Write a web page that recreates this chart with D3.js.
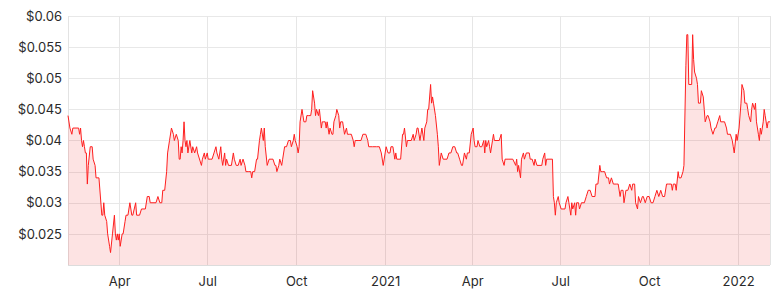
<!DOCTYPE html>
<html><head><meta charset="utf-8">
<script src="https://cdn.jsdelivr.net/npm/d3@7"></script>
<style>
html,body{margin:0;padding:0;background:#fff;}
svg{display:block;font-family:Inter,"Open Sans",sans-serif;}
</style></head>
<body><svg id="chart" width="780" height="298"></svg>
<script>
const dates = [
"2020-02-08","2020-02-10","2020-02-12","2020-02-13","2020-02-19","2020-02-20","2020-02-21","2020-02-22","2020-02-23","2020-02-24",
"2020-02-25","2020-02-26","2020-02-27","2020-02-28","2020-02-29","2020-03-02","2020-03-04","2020-03-05","2020-03-07","2020-03-08",
"2020-03-11","2020-03-14","2020-03-15","2020-03-16","2020-03-17","2020-03-19","2020-03-20","2020-03-22","2020-03-23","2020-03-25",
"2020-03-27","2020-03-28","2020-03-29","2020-03-30","2020-03-31","2020-04-01","2020-04-02","2020-04-04","2020-04-05","2020-04-07",
"2020-04-08","2020-04-10","2020-04-12","2020-04-14","2020-04-15","2020-04-18","2020-04-19","2020-04-22","2020-04-24","2020-04-28",
"2020-04-30","2020-05-02","2020-05-03","2020-05-09","2020-05-11","2020-05-13","2020-05-15","2020-05-16","2020-05-18","2020-05-20",
"2020-05-21","2020-05-23","2020-05-25","2020-05-27","2020-05-28","2020-05-30","2020-06-01","2020-06-02","2020-06-03","2020-06-04",
"2020-06-05","2020-06-06","2020-06-07","2020-06-08","2020-06-09","2020-06-10","2020-06-11","2020-06-13",
"2020-06-15","2020-06-16","2020-06-18","2020-06-20","2020-06-21","2020-06-25","2020-06-26","2020-06-28","2020-06-29","2020-07-01",
"2020-07-02","2020-07-04","2020-07-06","2020-07-08","2020-07-10","2020-07-11","2020-07-13","2020-07-15","2020-07-16","2020-07-17",
"2020-07-19","2020-07-20","2020-07-21","2020-07-23","2020-07-26","2020-07-28","2020-07-29","2020-07-31","2020-08-02","2020-08-04",
"2020-08-05","2020-08-07","2020-08-09","2020-08-10","2020-08-13","2020-08-15","2020-08-16","2020-08-17","2020-08-19","2020-08-21",
"2020-08-22","2020-08-24","2020-08-25","2020-08-26","2020-08-28","2020-08-29","2020-08-30","2020-09-01","2020-09-03","2020-09-05",
"2020-09-07","2020-09-09","2020-09-10","2020-09-11","2020-09-13","2020-09-14","2020-09-16","2020-09-17","2020-09-19","2020-09-21",
"2020-09-23","2020-09-25","2020-09-26","2020-09-28","2020-09-29","2020-09-30","2020-10-02","2020-10-03","2020-10-04","2020-10-05",
"2020-10-07","2020-10-08","2020-10-09","2020-10-11","2020-10-12","2020-10-14","2020-10-16","2020-10-17","2020-10-18","2020-10-20",
"2020-10-21","2020-10-22","2020-10-24","2020-10-25",
"2020-10-27","2020-10-28","2020-10-29","2020-10-31","2020-11-01","2020-11-02","2020-11-04","2020-11-05","2020-11-07","2020-11-08",
"2020-11-09","2020-11-11","2020-11-12","2020-11-14","2020-11-15","2020-11-16","2020-11-18","2020-11-19","2020-11-20","2020-11-22",
"2020-11-23","2020-11-25","2020-11-27","2020-11-29","2020-11-30","2020-12-01","2020-12-04","2020-12-07","2020-12-09","2020-12-12",
"2020-12-14","2020-12-15","2020-12-19","2020-12-23","2020-12-26","2020-12-28","2020-12-30","2021-01-01","2021-01-02","2021-01-04",
"2021-01-06","2021-01-07","2021-01-09","2021-01-11","2021-01-12","2021-01-13","2021-01-17","2021-01-19","2021-01-20","2021-01-21",
"2021-01-23","2021-01-24","2021-01-28","2021-01-30","2021-01-31","2021-02-02","2021-02-03","2021-02-04","2021-02-06","2021-02-07",
"2021-02-08","2021-02-10","2021-02-11","2021-02-13","2021-02-14","2021-02-15","2021-02-17","2021-02-18","2021-02-19","2021-02-20",
"2021-02-22","2021-02-24","2021-02-25","2021-02-26","2021-02-28","2021-03-02","2021-03-06","2021-03-08","2021-03-10","2021-03-12",
"2021-03-14","2021-03-16","2021-03-17",
"2021-03-19","2021-03-21","2021-03-22","2021-03-24","2021-03-26","2021-03-27","2021-03-29","2021-03-31","2021-04-02","2021-04-03",
"2021-04-04","2021-04-06","2021-04-07","2021-04-09","2021-04-11","2021-04-13","2021-04-14","2021-04-15","2021-04-16","2021-04-18",
"2021-04-19","2021-04-20","2021-04-22","2021-04-23","2021-04-24","2021-04-29","2021-05-01","2021-05-02","2021-05-04","2021-05-05",
"2021-05-09","2021-05-13","2021-05-16","2021-05-17","2021-05-18","2021-05-19","2021-05-21","2021-05-22","2021-05-24","2021-05-25",
"2021-05-27","2021-05-30","2021-05-31","2021-06-02","2021-06-04","2021-06-05","2021-06-07","2021-06-12","2021-06-13","2021-06-15",
"2021-06-16","2021-06-17","2021-06-23","2021-06-24","2021-06-25","2021-06-26","2021-06-27","2021-06-29","2021-06-30","2021-07-02",
"2021-07-06","2021-07-07","2021-07-09","2021-07-10","2021-07-12","2021-07-13","2021-07-14","2021-07-16","2021-07-17","2021-07-18",
"2021-07-20",
"2021-07-21","2021-07-23","2021-07-26","2021-07-28","2021-07-30","2021-08-01","2021-08-03","2021-08-06","2021-08-07","2021-08-09",
"2021-08-11","2021-08-12","2021-08-14","2021-08-16","2021-08-18","2021-08-20","2021-08-21","2021-08-23","2021-08-25","2021-08-28",
"2021-08-30","2021-09-01","2021-09-02","2021-09-04","2021-09-05","2021-09-07","2021-09-09","2021-09-11","2021-09-13","2021-09-14",
"2021-09-16","2021-09-17","2021-09-19","2021-09-20","2021-09-22","2021-09-24","2021-09-25","2021-09-27","2021-09-29","2021-10-01",
"2021-10-03","2021-10-05","2021-10-07","2021-10-09","2021-10-11","2021-10-13","2021-10-15","2021-10-17","2021-10-19","2021-10-21",
"2021-10-24","2021-10-25","2021-10-26","2021-10-28","2021-10-29","2021-10-31","2021-11-01","2021-11-03","2021-11-05","2021-11-06",
"2021-11-08","2021-11-09","2021-11-10","2021-11-11","2021-11-14","2021-11-15","2021-11-16","2021-11-17","2021-11-19","2021-11-20",
"2021-11-21","2021-11-23","2021-11-24","2021-11-26","2021-11-27","2021-11-28","2021-11-30","2021-12-01","2021-12-03","2021-12-04",
"2021-12-06","2021-12-08","2021-12-09","2021-12-11","2021-12-13","2021-12-14","2021-12-18","2021-12-20","2021-12-21","2021-12-24",
"2021-12-26","2021-12-27","2021-12-28","2021-12-30","2021-12-31","2022-01-02","2022-01-04","2022-01-05","2022-01-07","2022-01-08",
"2022-01-10","2022-01-11","2022-01-12","2022-01-14","2022-01-15","2022-01-16","2022-01-18","2022-01-19","2022-01-20","2022-01-22",
"2022-01-23","2022-01-24","2022-01-25","2022-01-27","2022-01-28","2022-01-29","2022-01-31","2022-02-01","2022-02-03"
];
const prices = [
0.044,0.042,0.041,0.042,0.042,0.041,0.042,0.040,0.039,0.040,
0.039,0.038,0.038,0.033,0.036,0.039,0.039,0.037,0.036,0.034,
0.034,0.028,0.028,0.030,0.028,0.027,0.025,0.023,0.022,0.025,
0.028,0.025,0.024,0.025,0.024,0.025,0.023,0.025,0.025,0.027,
0.028,0.028,0.030,0.028,0.028,0.030,0.028,0.028,0.029,0.029,
0.031,0.031,0.030,0.030,0.031,0.030,0.030,0.032,0.032,0.035,
0.038,0.040,0.042,0.041,0.040,0.041,0.040,0.037,0.037,0.039,
0.038,0.040,0.043,0.040,0.039,0.040,0.038,0.040,
0.038,0.039,0.038,0.039,0.038,0.036,0.037,0.038,0.037,0.038,
0.037,0.037,0.037,0.038,0.039,0.038,0.037,0.039,0.037,0.036,
0.038,0.036,0.037,0.036,0.036,0.038,0.037,0.036,0.036,0.037,
0.036,0.037,0.036,0.035,0.035,0.035,0.034,0.035,0.035,0.037,
0.037,0.040,0.041,0.042,0.040,0.042,0.039,0.036,0.037,0.037,
0.037,0.036,0.036,0.035,0.036,0.037,0.036,0.037,0.039,0.039,
0.040,0.040,0.039,0.040,0.041,0.040,0.039,0.038,0.039,0.043,
0.045,0.044,0.043,0.043,0.044,0.044,0.044,0.045,0.048,0.046,
0.044,0.045,0.044,0.045,
0.042,0.043,0.043,0.043,0.042,0.043,0.041,0.042,0.041,0.041,
0.043,0.044,0.045,0.044,0.042,0.043,0.043,0.042,0.041,0.042,
0.041,0.041,0.041,0.040,0.039,0.040,0.040,0.040,0.041,0.041,
0.040,0.039,0.039,0.039,0.039,0.038,0.036,0.038,0.039,0.038,
0.038,0.039,0.039,0.037,0.038,0.037,0.037,0.041,0.041,0.042,
0.039,0.040,0.040,0.041,0.040,0.041,0.042,0.042,0.040,0.041,
0.042,0.040,0.042,0.043,0.045,0.045,0.049,0.046,0.047,0.046,
0.044,0.041,0.039,0.036,0.038,0.037,0.037,0.038,0.038,0.039,
0.039,0.038,0.038,
0.037,0.036,0.036,0.038,0.037,0.038,0.038,0.041,0.042,0.040,
0.039,0.039,0.040,0.039,0.039,0.040,0.038,0.040,0.039,0.040,
0.039,0.038,0.040,0.041,0.040,0.040,0.041,0.037,0.036,0.037,
0.037,0.037,0.036,0.037,0.035,0.036,0.034,0.037,0.038,0.037,
0.038,0.038,0.037,0.037,0.036,0.037,0.036,0.036,0.037,0.038,
0.036,0.037,0.037,0.031,0.030,0.028,0.030,0.031,0.030,0.029,
0.029,0.030,0.031,0.030,0.028,0.030,0.029,0.030,0.028,0.030,
0.030,
0.029,0.030,0.030,0.031,0.032,0.032,0.031,0.031,0.033,0.033,
0.036,0.035,0.035,0.035,0.034,0.034,0.033,0.034,0.033,0.033,
0.033,0.031,0.032,0.032,0.030,0.032,0.032,0.033,0.032,0.033,
0.033,0.030,0.029,0.031,0.030,0.031,0.031,0.030,0.031,0.031,
0.030,0.030,0.031,0.032,0.031,0.032,0.031,0.031,0.033,0.033,
0.033,0.032,0.033,0.033,0.032,0.035,0.034,0.034,0.035,0.036,
0.052,0.057,0.057,0.049,0.049,0.057,0.053,0.051,0.050,0.049,
0.046,0.046,0.048,0.047,0.045,0.043,0.044,0.044,0.043,0.042,
0.041,0.042,0.042,0.043,0.044,0.043,0.043,0.042,0.041,0.041,
0.040,0.039,0.038,0.041,0.040,0.042,0.046,0.049,0.048,0.046,
0.046,0.045,0.044,0.043,0.045,0.046,0.045,0.046,0.043,0.041,
0.040,0.042,0.041,0.043,0.045,0.044,0.042,0.043,0.043
];
const yTicks = [0.025,0.03,0.035,0.04,0.045,0.05,0.055,0.06];
const yDomain = [0.02,0.06];

const parse = d3.utcParse("%Y-%m-%d");
const data = dates.map((d,i)=>({date:parse(d), value:prices[i]}));

const W=780,H=298, m={left:68,right:10,top:16,bottom:33};
const svg = d3.select("#chart");
const x = d3.scaleUtc().domain(d3.extent(data,d=>d.date)).range([m.left, W-m.right]);
const y = d3.scaleLinear().domain(yDomain).range([H-m.bottom, m.top]);

const xTickVals = d3.utcMonth.every(3).range(x.domain()[0], x.domain()[1]);
const xFmt = d => d.getUTCMonth()===0 ? d3.utcFormat("%Y")(d) : d3.utcFormat("%b")(d);

// grid
const g = svg.append("g");
g.selectAll("line.h").data(yTicks).join("line")
  .attr("x1",m.left).attr("x2",W-m.right)
  .attr("y1",d=>Math.round(y(d))+0.5).attr("y2",d=>Math.round(y(d))+0.5)
  .attr("stroke","#e8e8e8").attr("stroke-width",1);
g.selectAll("line.v").data(xTickVals).join("line")
  .attr("x1",d=>Math.round(x(d))+0.5).attr("x2",d=>Math.round(x(d))+0.5)
  .attr("y1",m.top).attr("y2",H-m.bottom)
  .attr("stroke","#e6e6e6").attr("stroke-width",1);
g.append("line").attr("x1",m.left+0.5).attr("x2",m.left+0.5).attr("y1",m.top).attr("y2",H-m.bottom).attr("stroke","#e3e3e3");
g.append("line").attr("x1",W-m.right+0.5).attr("x2",W-m.right+0.5).attr("y1",m.top).attr("y2",H-m.bottom).attr("stroke","#e3e3e3");

// area + line
const area = d3.area().x(d=>x(d.date)).y0(y(yDomain[0])).y1(d=>y(d.value)).curve(d3.curveLinear);
const line = d3.line().x(d=>x(d.date)).y(d=>y(d.value)).curve(d3.curveLinear);
svg.append("path").datum(data).attr("d",area).attr("fill","rgba(240,0,0,0.11)");
svg.append("path").datum(data).attr("d",line).attr("fill","none").attr("stroke","#ff1f1f").attr("stroke-width",1).attr("stroke-linejoin","round");

// bottom axis
const xAxis = d3.axisBottom(x).tickValues(xTickVals).tickFormat(xFmt).tickSize(0).tickPadding(12);
const ax = svg.append("g").attr("transform",`translate(0,${H-m.bottom})`).call(xAxis);
ax.select(".domain").attr("stroke","#dcdcdc").attr("d",`M${m.left},0.5H${W-m.right}`);
ax.selectAll("text").attr("fill","#2a2a2a").attr("font-size",13).attr("font-family","Inter,'Open Sans',sans-serif");

// left axis labels
const yAxis = d3.axisLeft(y).tickValues(yTicks).tickFormat(d=>"$"+d3.format("")(+d.toFixed(3))).tickSize(0).tickPadding(6);
const ay = svg.append("g").attr("transform",`translate(${m.left},0)`).call(yAxis);
ay.select(".domain").remove();
ay.selectAll("text").attr("fill","#2a2a2a").attr("font-size",13).attr("font-family","Inter,'Open Sans',sans-serif");
</script>
</body></html>
